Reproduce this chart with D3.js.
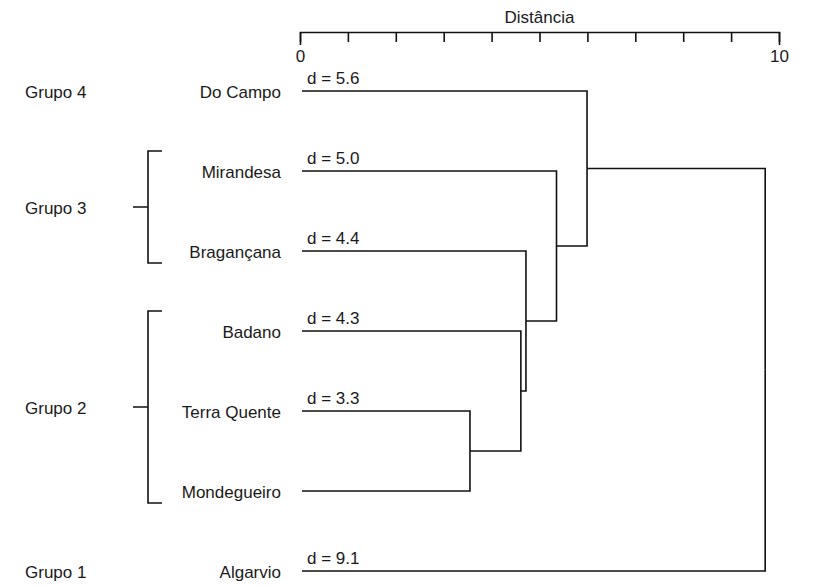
<!DOCTYPE html>
<html>
<head>
<meta charset="utf-8">
<script src="https://cdn.jsdelivr.net/npm/d3@7"></script>
<style>
  body { margin: 0; background: #fff; }
  text { font-family: "Liberation Sans", Arial, sans-serif; font-size: 17px; fill: #1a1a1a; }
  .link { fill: none; stroke: #111; stroke-width: 1.6; }
  .axis path, .axis line { stroke: #111; stroke-width: 1.6; }
  .axis text { font-size: 17px; }
</style>
</head>
<body>
<script>
//leaves from top to bottom
var leaves = ["Do Campo", "Mirandesa", "Bragançana", "Badano", "Terra Quente", "Mondegueiro", "Algarvio"];

//agglomeration order: leaf that joins the cluster, and distance d
var mergeLeaf = ["Terra Quente", "Badano", "Bragançana", "Mirandesa", "Do Campo", "Algarvio"];
var mergeDist = [3.3, 4.3, 4.4, 5.0, 5.6, 9.1];
var firstLeaf = "Mondegueiro";

//groups shown on the left
var groupNames = ["Grupo 4", "Grupo 3", "Grupo 2", "Grupo 1"];
var groupMembers = [["Do Campo"], ["Mirandesa", "Bragançana"], ["Badano", "Terra Quente", "Mondegueiro"], ["Algarvio"]];

//axis
var axisTicks = d3.range(0, 11);
var axisLabels = [0, 10];
var axisTitle = "Distância";

window.onload = drawChart();

function drawChart(){
    var width = 837,
        height = 586;

    var svg = d3.select("body")
        .append("svg")
        .attr("width", width)
        .attr("height", height);

    //distance axis scale
    var x = d3.scaleLinear().domain([0, 10]).range([300, 779]);
    //tree is drawn slightly stretched against the axis in the original
    var xTree = d3.scaleLinear().domain([0, 10]).range([302, 811]);
    var y = d3.scalePoint().domain(leaves).range([91, 571]);

    //axis on top
    var axis = d3.axisBottom(x)
        .tickValues(axisTicks)
        .tickSizeInner(10)
        .tickSizeOuter(13)
        .tickPadding(8)
        .tickFormat(function(d){ return axisLabels.indexOf(d) >= 0 ? d : ""; });

    var gAxis = svg.append("g")
        .attr("class", "axis")
        .attr("transform", "translate(0,32)")
        .call(axis);
    gAxis.selectAll("text").attr("fill", "#1a1a1a").style("font-family", "Liberation Sans, Arial, sans-serif");

    svg.append("text")
        .attr("x", x(5))
        .attr("y", 23)
        .attr("text-anchor", "middle")
        .text(axisTitle);

    //build nested cluster object
    var cluster = { name: firstLeaf };
    mergeLeaf.forEach(function(name, i){
        cluster = { d: mergeDist[i], label: name, children: [{ name: name }, cluster] };
    });

    var root = d3.hierarchy(cluster);
    //positions: leaves at distance 0, clusters at their merge distance
    root.eachAfter(function(n){
        if (!n.children) {
            n.px = xTree(0);
            n.py = y(n.data.name);
        } else {
            n.px = xTree(n.data.d);
            n.py = d3.mean(n.children, function(c){ return c.py; });
        }
    });

    //elbow links
    svg.selectAll(".link")
        .data(root.links())
        .enter()
        .append("path")
        .attr("class", "link")
        .attr("d", function(l){
            return "M" + l.target.px + "," + l.target.py +
                   "H" + l.source.px + "V" + l.source.py;
        });

    //d labels above the joining leaf's line
    svg.selectAll(".dlab")
        .data(root.descendants().filter(function(n){ return n.children; }))
        .enter()
        .append("text")
        .attr("class", "dlab")
        .attr("x", xTree(0) + 5)
        .attr("y", function(n){ return y(n.data.label) - 7; })
        .text(function(n){ return "d = " + n.data.d.toFixed(1); });

    //leaf names
    svg.selectAll(".leaf")
        .data(leaves)
        .enter()
        .append("text")
        .attr("class", "leaf")
        .attr("x", 281)
        .attr("y", function(d){ return y(d) + 1; })
        .attr("dy", "0.35em")
        .attr("text-anchor", "end")
        .text(function(d){ return d; });

    //groups with brackets
    var groups = groupNames.map(function(g, i){
        var ys = groupMembers[i].map(function(m){ return y(m); });
        var top = d3.min(ys), bot = d3.max(ys);
        if (ys.length > 1) { top = top - 20; bot = bot + 12; }
        return { name: g, top: top, bot: bot, mid: (top + bot) / 2, multi: ys.length > 1 };
    });

    svg.selectAll(".glab")
        .data(groups)
        .enter()
        .append("text")
        .attr("class", "glab")
        .attr("x", 25)
        .attr("y", function(d){ return d.mid + 1; })
        .attr("dy", "0.35em")
        .text(function(d){ return d.name; });

    svg.selectAll(".bracket")
        .data(groups.filter(function(d){ return d.multi; }))
        .enter()
        .append("path")
        .attr("class", "link")
        .attr("d", function(d){
            return "M162," + d.top + "H148V" + d.bot + "H162" +
                   "M133," + d.mid + "H148";
        });
}
</script>
</body>
</html>
